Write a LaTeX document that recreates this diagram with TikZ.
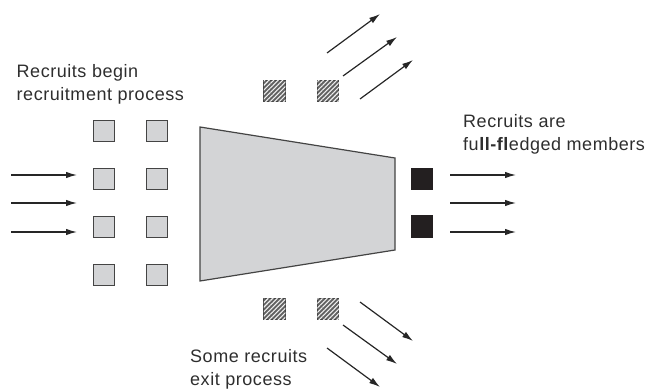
\documentclass[tikz,border=0pt]{standalone}
\usepackage{fontspec}
\setmainfont{Liberation Sans}
\newfontfamily\lblfont[LetterSpace=3]{Liberation Sans}
\usepackage{tikz}
\usetikzlibrary{arrows.meta,patterns.meta}
\definecolor{boxgray}{HTML}{D3D4D6}
\definecolor{edgegray}{HTML}{444444}
\definecolor{inkblack}{HTML}{231F20}
\tikzset{
  sq/.style = {draw=edgegray, line width=1.3pt, minimum size=21.5pt, inner sep=0pt},
  recruit/.style = {sq, fill=boxgray},
  leaver/.style = {sq, fill=black!62,
    postaction={pattern={Lines[angle=45,distance=3.2pt,line width=1.1pt]}, pattern color=white!88!gray}},
  member/.style = {sq, draw=inkblack, fill=inkblack},
  funnel/.style = {draw=edgegray, line width=1.2pt, fill=boxgray},
  flow/.style = {draw=black!85, line width=1.2pt, -{Latex[length=11pt,width=6.5pt]}},
  lbl/.style = {anchor=base west, align=left, inner sep=0pt,
    font=\lblfont\fontsize{18}{23}\selectfont, text=black!82}
}
\begin{document}
\begin{tikzpicture}[x=1pt,y=-1pt]
	\useasboundingbox (0,0) rectangle (646,390);
	%\draw [help lines, step=10] (0,0) grid (646,390);
	% funnel
	\draw [funnel] (200,127) -- (395,158) -- (395,250) -- (200,281) -- cycle;
	% recruits waiting to begin
	\foreach \r/\y in {1/131, 2/179, 3/227, 4/275} {
		\node [recruit] (in\r a) at (104,\y) {};
		\node [recruit] (in\r b) at (157,\y) {};
	}
	% recruits that leave
	\node [leaver] (up1) at (274.5,91) {};
	\node [leaver] (up2) at (328,91) {};
	\node [leaver] (dn1) at (274.5,309) {};
	\node [leaver] (dn2) at (328,309) {};
	% full members
	\node [member] (out1) at (422,179) {};
	\node [member] (out2) at (422,226.5) {};
	% arrows in
	\draw [flow] (11,175) -- (77,175);
	\draw [flow] (11,203) -- (77,203);
	\draw [flow] (11,232) -- (77,232);
	% arrows out
	\draw [flow] (450,175) -- (516,175);
	\draw [flow] (450,203) -- (516,203);
	\draw [flow] (450,232) -- (516,232);
	% arrows up
	\draw [flow] (327,53) -- (380,14);
	\draw [flow] (343,76) -- (397,37);
	\draw [flow] (360,99) -- (413,60);
	% arrows down
	\draw [flow] (360,302) -- (413,341);
	\draw [flow] (343,325) -- (397,364);
	\draw [flow] (327,348) -- (380,387);
	% labels (base = last line)
	\node [lbl] (begin) at (16.5,101) {Recruits begin\\recruitment process};
	\node [lbl] (members) at (463,151) {Recruits are\\fu\textbf{ll-fl}edged members};
	\node [lbl] (exit) at (190,385) {Some recruits\\exit process};
\end{tikzpicture}
\end{document}
